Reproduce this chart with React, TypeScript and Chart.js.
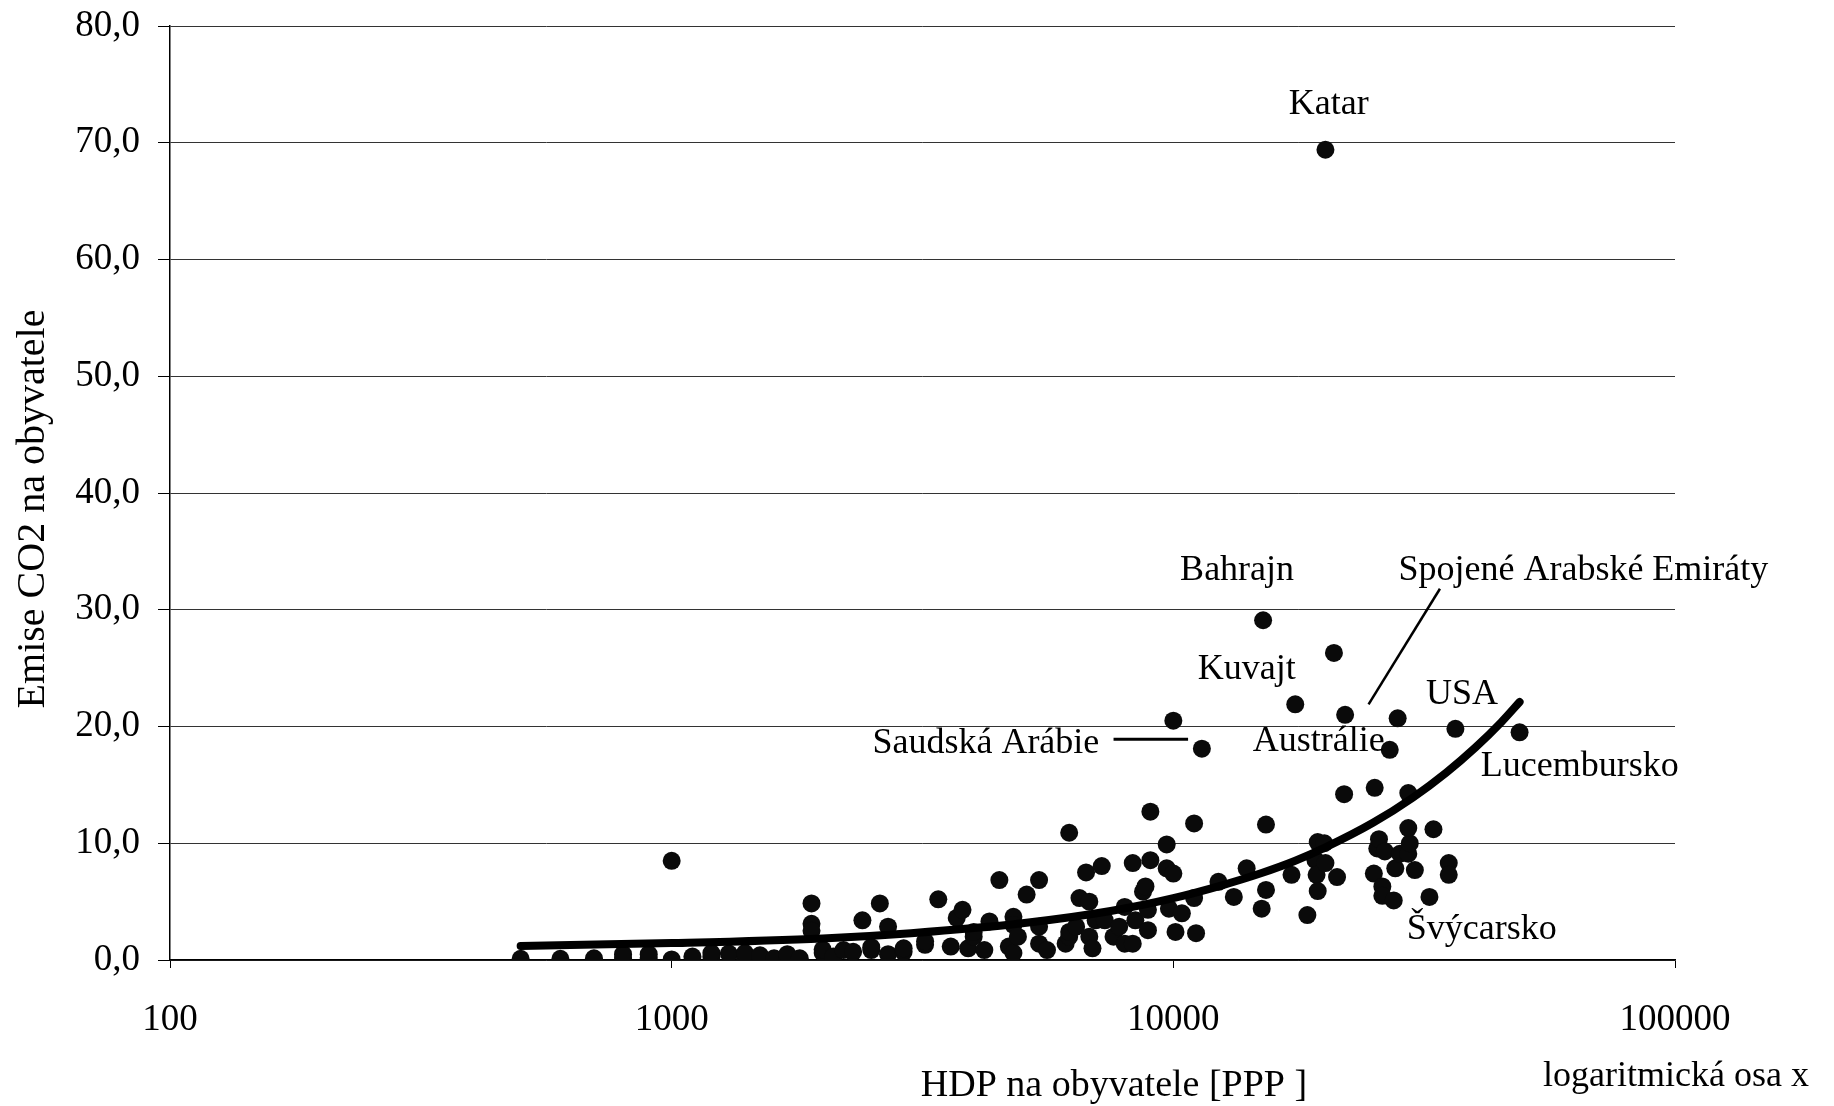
import React, { useEffect, useRef } from "react";
import { Chart, registerables } from "chart.js";

Chart.register(...registerables);

// HDP na obyvatele [PPP] (x) a emise CO2 na obyvatele (y)
const gdp = [
  500, 600, 700, 800, 800, 900, 900, 1000, 1000, 1100, 1200, 1200, 1300, 1400, 1400, 1500, 1600, 1700, 1700, 1800,
  1900, 1900, 1900, 2000, 2000, 2100, 2200, 2300, 2400, 2500, 2500, 2600, 2700, 2700, 2900, 2900,
  3200, 3200, 3400, 3600, 3700, 3800, 3900, 4000, 4000, 4200, 4300, 4500, 4700, 4800, 4800, 4800, 4900, 5100,
  5400, 5400, 5400, 5600, 6100, 6200, 6200, 6200, 6400, 6500, 6700, 6800, 6800, 6900, 7000, 7200, 7300, 7600, 7800,
  8000, 8000, 8300, 8300, 8400, 8700, 8800, 8900, 8900, 9000, 9000, 9700, 9700, 9800, 10000, 10000, 10100, 10400,
  11000, 11100, 11000, 11400, 12300, 13200, 14000, 15000, 15100, 15300, 15300, 17200, 17500, 18500, 19200, 19300,
  19400, 19400, 20000, 20100, 20100, 20900, 21200, 21900, 22000, 25100, 25200, 25500, 25700, 26100, 26100, 26400,
  27000, 27500, 27700, 28000, 28300, 29400, 29600, 29400, 29400, 30300, 32400, 33000, 35400, 35400, 36500, 49000,
];
const co2 = [
  0.1, 0.1, 0.15, 0.2, 0.5, 0.2, 0.5, 0.05, 8.5, 0.3, 0.3, 0.6, 0.55, 0.2, 0.6, 0.4, 0.15, 0.3, 0.5, 0.15,
  4.85, 3.1, 2.5, 0.6, 0.9, 0.3, 0.85, 0.7, 3.4, 0.85, 1.1, 4.85, 2.85, 0.5, 0.7, 1.0,
  1.3, 1.6, 5.2, 1.15, 3.6, 4.3, 1.0, 2.0, 2.4, 0.85, 3.3, 6.85, 1.15, 3.7, 3.0, 0.6, 2.0, 5.6,
  6.85, 2.85, 1.4, 0.85, 1.4, 10.9, 2.0, 2.4, 2.85, 5.3, 7.5, 5.0, 2.0, 1.0, 3.4, 8.05, 3.4, 2.0, 2.85,
  1.4, 4.55, 8.3, 1.4, 3.4, 5.85, 6.3, 2.55, 4.3, 12.7, 8.55, 9.9, 7.85, 4.4, 7.4, 20.5, 2.4, 4.0,
  11.7, 2.3, 5.3, 18.1, 6.7, 5.4, 7.85, 4.4, 29.1, 11.6, 6.0, 7.3, 21.9, 3.85, 8.55, 7.3,
  10.1, 5.9, 10.0, 8.3, 69.4, 26.3, 7.1, 14.2, 21.0, 7.4, 14.75, 9.55, 10.35, 6.3, 5.5, 9.3,
  18.0, 5.1, 7.85, 20.7, 9.1, 9.1, 10.0, 11.3, 14.3, 7.7, 5.4, 11.2, 8.3, 7.3, 19.8, 19.5,
];

// spojnice trendu
const trendGdp = [500, 1000, 2000, 3000, 5000, 7500, 10000, 12500, 15000, 17500, 20000, 25000, 30000, 35000, 40000, 45000, 49000];
const trendCo2 = [1.2, 1.45, 1.85, 2.3, 3.15, 4.2, 5.3, 6.4, 7.45, 8.5, 9.6, 11.75, 13.9, 16.05, 18.2, 20.35, 22.1];

const xTicks = [100, 1000, 10000, 100000];

// popisky zemí (poloha v datových souřadnicích)
const labelTexts = ["Katar", "Bahrajn", "Spojené Arabské Emiráty", "Kuvajt", "USA", "Saudská Arábie", "Austrálie", "Lucembursko", "Švýcarsko"];
const labelGdp = [20400, 13400, 28100, 14000, 37600, 7120, 19500, 41000, 29200];
const labelCo2 = [73.3, 33.4, 33.4, 24.9, 22.7, 18.5, 18.7, 16.6, 2.6];
const labelAlign = ["center", "center", "left", "center", "center", "right", "center", "left", "left"];

// odkazové čáry [x1, y1, x2, y2]
const leaderSaudi = [7600, 18.9, 10700, 18.9];
const leaderUAE = [34000, 31.8, 24500, 21.9];

const xTitle = "HDP na obyvatele [PPP ]";
const yTitle = "Emise CO2 na obyvatele";
const noteText = "logaritmická osa x";

const FONT = "'Liberation Serif', 'Times New Roman', serif";

const annotPlugin = {
  id: "annot",
  afterDraw(chart: any) {
    const { ctx } = chart;
    const xs = chart.scales.x;
    const ys = chart.scales.y;
    ctx.save();
    ctx.fillStyle = "#000";
    ctx.strokeStyle = "#000";
    ctx.font = `36px ${FONT}`;
    ctx.textBaseline = "middle";
    for (let i = 0; i < labelTexts.length; i++) {
      ctx.textAlign = labelAlign[i];
      ctx.fillText(labelTexts[i], xs.getPixelForValue(labelGdp[i]), ys.getPixelForValue(labelCo2[i]));
    }
    const line = (l: number[], w: number) => {
      ctx.lineWidth = w;
      ctx.beginPath();
      ctx.moveTo(xs.getPixelForValue(l[0]), ys.getPixelForValue(l[1]));
      ctx.lineTo(xs.getPixelForValue(l[2]), ys.getPixelForValue(l[3]));
      ctx.stroke();
    };
    line(leaderSaudi, 3);
    line(leaderUAE, 2.5);

    ctx.font = `38px ${FONT}`;
    ctx.textAlign = "center";
    ctx.fillText(xTitle, 1114, 1086);
    ctx.font = `36px ${FONT}`;
    ctx.fillText(noteText, 1676, 1077);
    ctx.save();
    ctx.font = `40px ${FONT}`;
    ctx.translate(33, 509);
    ctx.rotate(-Math.PI / 2);
    ctx.fillText(yTitle, 0, 0);
    ctx.restore();
    ctx.restore();
  },
};

export default function App() {
  const ref = useRef<HTMLCanvasElement | null>(null);
  useEffect(() => {
    if (!ref.current) return;
    const points = gdp.map((g, i) => ({ x: g, y: co2[i] }));
    const trend = trendGdp.map((g, i) => ({ x: g, y: trendCo2[i] }));
    const chart = new Chart(ref.current, {
      type: "scatter",
      data: {
        datasets: [
          {
            type: "line",
            label: "trend",
            data: trend,
            borderColor: "#000",
            borderWidth: 8,
            borderCapStyle: "round",
            pointRadius: 0,
            cubicInterpolationMode: "monotone",
            fill: false,
          } as any,
          {
            label: "země",
            data: points,
            backgroundColor: "#0a0a0a",
            borderWidth: 0,
            pointRadius: 9,
          },
        ],
      },
      options: {
        animation: false,
        responsive: false,
        maintainAspectRatio: false,
        devicePixelRatio: 1,
        layout: { padding: { left: 0, top: 26, right: 159, bottom: 0 } },
        plugins: { legend: { display: false }, tooltip: { enabled: false } },
        scales: {
          x: {
            type: "logarithmic",
            min: 100,
            max: 100000,
            afterBuildTicks: (scale: any) => {
              scale.ticks = xTicks.map((v) => ({ value: v }));
            },
            afterFit: (scale: any) => {
              scale.height = 146;
              scale.paddingLeft = 0;
              scale.paddingRight = 0;
            },
            ticks: {
              autoSkip: false,
              maxRotation: 0,
              padding: 30,
              color: "#000",
              font: { family: FONT, size: 37 },
              callback: (v: any) => String(v),
            },
            grid: { drawOnChartArea: false, drawTicks: true, tickLength: 8, tickColor: "#000" },
            border: { color: "#000", width: 1.5 },
          },
          y: {
            min: 0,
            max: 80,
            afterFit: (scale: any) => {
              scale.width = 170;
              scale.paddingTop = 0;
              scale.paddingBottom = 0;
            },
            ticks: {
              stepSize: 10,
              padding: 18,
              color: "#000",
              font: { family: FONT, size: 37 },
              callback: (v: any) => Number(v).toFixed(1).replace(".", ","),
            },
            grid: { color: "#333", lineWidth: 1, tickLength: 12, tickColor: "#000" },
            border: { color: "#000", width: 1.5 },
          },
        },
      },
      plugins: [annotPlugin],
    });
    return () => chart.destroy();
  }, []);
  return (
    <div style={{ position: "absolute", left: 0, top: 0, width: 1834, height: 1106, background: "#fff" }}>
      <canvas ref={ref} width={1834} height={1106} style={{ width: 1834, height: 1106 }} />
    </div>
  );
}
